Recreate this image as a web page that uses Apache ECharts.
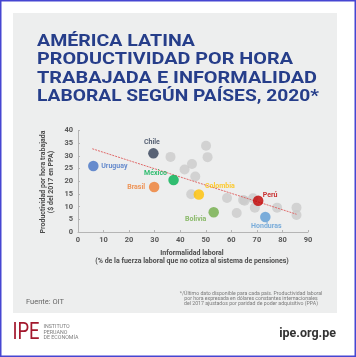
<!DOCTYPE html>
<html><head><meta charset="utf-8">
<script src="https://cdn.jsdelivr.net/npm/echarts@6/dist/echarts.min.js"></script>
<style>html,body{margin:0;padding:0;background:#fff}#c{width:356px;height:357px}</style>
</head><body><div id="c"></div>
<script>
// ---- data ----
var titleLines = ['AMÉRICA LATINA', 'PRODUCTIVIDAD POR HORA', 'TRABAJADA E INFORMALIDAD', 'LABORAL SEGÚN PAÍSES, 2020*'];
var countries = ['Uruguay', 'Chile', 'México', 'Brasil', 'Colombia', 'Bolivia', 'Perú', 'Honduras'];
var countryInformality = [6, 29.5, 37.4, 29.8, 47.3, 53.1, 70.5, 73.3];
var countryProductivity = [26, 31, 20.5, 17.7, 14.8, 7.8, 12.3, 5.9];
var otherInformality = [36.2, 41.7, 44.6, 45.9, 44.3, 50.1, 50.7, 58.3, 62.1, 64.6, 65.2, 68.5, 69.2, 77.9, 85.5, 85.5];
var otherProductivity = [29.6, 24.6, 26.8, 21.9, 14.9, 34.0, 29.5, 13.4, 7.5, 12.6, 12.3, 13.3, 9.6, 9.6, 9.6, 6.7];
var trendInformality = [5.6, 85.5];
var trendProductivity = [32.8, 7.0];
var xTicks = [0, 10, 20, 30, 40, 50, 60, 70, 80, 90];
var yTicks = [0, 5, 10, 15, 20, 25, 30, 35, 40];
var xAxisTitle = ['Informalidad laboral', '(% de la fuerza laboral que no cotiza al sistema de pensiones)'];
var yAxisTitle = ['Productividad por hora trabajada', '($ del 2017 en PPA)'];
var sourceText = 'Fuente: OIT';
var noteLines = ['*/Último dato disponible para cada país. Productividad laboral', 'por hora expresada en dólares constantes internacionales', 'del 2017 ajustados por paridad de poder adquisitivo (PPA)'];
var instituteLines = ['INSTITUTO', 'PERUANO', 'DE ECONOMÍA'];

// ---- styles ----
var countryColors = ['#4472c4', '#323e56', '#00b050', '#ed7d31', '#ffc000', '#70ad47', '#c00000', '#5b9bd5'];
var labelOffsets = [[21, 0], [-1.5, -11], [-18, -6.5], [-18, 0], [21, -8], [-18, 7], [12, -6], [1, 9.5]];
var titleWidths = [158, 256, 280, 282];
var FONT = 'Roboto';

var measureCtx = document.createElement('canvas').getContext('2d');
function textWidth(t, font) { measureCtx.font = font; return measureCtx.measureText(t).width; }

var chart = echarts.init(document.getElementById('c'), null, {renderer: 'canvas'});

var graphics = [
  {type: 'rect', shape: {x: 0.75, y: 0.75, width: 354.5, height: 355.5}, style: {fill: '#ffffff', stroke: '#4646d2', lineWidth: 1.5}, z: -10},
  {type: 'rect', shape: {x: 13, y: 13, width: 324, height: 300}, style: {fill: '#edeeee'}, z: -9}
];
var titleCenters = [41.8, 60, 78.4, 96.4];
var titleFont = 'bold 17px ' + FONT;
titleLines.forEach(function (t, i) {
  var w = textWidth(t, titleFont);
  var sx = w > 0 ? titleWidths[i] / w : 1;
  graphics.push({type: 'text', x: 37, y: titleCenters[i], scaleX: sx, style: {text: t, fill: '#263e8a', font: titleFont, textVerticalAlign: 'middle', textAlign: 'left'}});
});
graphics.push({type: 'text', x: 192, y: 253.5, style: {text: xAxisTitle[0], fill: '#4d4d4d', font: 'bold 7px ' + FONT, textAlign: 'center', textVerticalAlign: 'middle'}});
graphics.push({type: 'text', x: 192, y: 261, style: {text: xAxisTitle[1], fill: '#4d4d4d', font: 'bold 7px ' + FONT, textAlign: 'center', textVerticalAlign: 'middle'}});
graphics.push({type: 'text', x: 43.5, y: 182, rotation: Math.PI / 2, style: {text: yAxisTitle[0], fill: '#4d4d4d', font: 'bold 7px ' + FONT, textAlign: 'center', textVerticalAlign: 'middle'}});
graphics.push({type: 'text', x: 51.5, y: 182, rotation: Math.PI / 2, style: {text: yAxisTitle[1], fill: '#4d4d4d', font: 'bold 7px ' + FONT, textAlign: 'center', textVerticalAlign: 'middle'}});
graphics.push({type: 'text', x: 26, y: 302.5, style: {text: sourceText, fill: '#666', font: '7.5px ' + FONT, textAlign: 'left', textVerticalAlign: 'middle'}});
noteLines.forEach(function (t, i) {
  graphics.push({type: 'text', x: 251, y: 293.3 + i * 5.4, style: {text: t, fill: '#7a7a7a', font: '5.2px ' + FONT, textAlign: 'center', textVerticalAlign: 'middle'}});
});
graphics.push({type: 'text', x: 12.5, y: 333, scaleX: 0.8, style: {text: 'IPE', fill: '#a3182d', font: '23px ' + FONT, textAlign: 'left', textVerticalAlign: 'middle'}});
instituteLines.forEach(function (t, i) {
  graphics.push({type: 'text', x: 43.5, y: 326.7 + i * 5.5, style: {text: t, fill: '#7d7d7d', font: '5.3px ' + FONT, textAlign: 'left', textVerticalAlign: 'middle'}});
});
graphics.push({type: 'text', x: 336, y: 333.5, style: {text: 'ipe.org.pe', fill: '#333', font: 'bold 12.5px ' + FONT, textAlign: 'right', textVerticalAlign: 'middle'}});

var countryData = countries.map(function (n, i) {
  return {
    name: n,
    value: [countryInformality[i], countryProductivity[i]],
    itemStyle: {color: countryColors[i]},
    label: {show: true, formatter: n, position: 'inside', offset: labelOffsets[i], color: countryColors[i], fontSize: 7, fontWeight: 'bold', fontFamily: FONT}
  };
});
var otherData = otherInformality.map(function (x, i) { return [x, otherProductivity[i]]; });
var trendData = trendInformality.map(function (x, i) { return [x, trendProductivity[i]]; });

chart.setOption({
  animation: false,
  backgroundColor: 'transparent',
  graphic: graphics,
  grid: {left: 78, right: 48, top: 130.5, bottom: 125, containLabel: false},
  xAxis: {
    type: 'value', min: xTicks[0], max: xTicks[xTicks.length - 1], interval: 10,
    axisLine: {lineStyle: {color: '#b5b5b5', width: 1}},
    axisTick: {show: true, inside: true, length: 2, lineStyle: {color: '#b5b5b5'}},
    axisLabel: {color: '#595959', fontSize: 7.5, fontWeight: 'bold', fontFamily: FONT, margin: 4},
    splitLine: {show: false}
  },
  yAxis: {
    type: 'value', min: yTicks[0], max: yTicks[yTicks.length - 1], interval: 5,
    axisLine: {show: true, lineStyle: {color: '#b5b5b5', width: 1}},
    axisTick: {show: true, inside: true, length: 2, lineStyle: {color: '#b5b5b5'}},
    axisLabel: {color: '#595959', fontSize: 7.5, fontWeight: 'bold', fontFamily: FONT, margin: 5},
    splitLine: {show: false}
  },
  series: [
    {type: 'scatter', data: otherData, symbolSize: 10, itemStyle: {color: '#cbcbcb'}, z: 2},
    {type: 'line', data: trendData, symbol: 'none', lineStyle: {color: '#e06a6a', width: 1, type: [2, 1]}, z: 3},
    {type: 'scatter', data: countryData, symbolSize: 10.5, z: 4}
  ]
});
</script></body></html>
